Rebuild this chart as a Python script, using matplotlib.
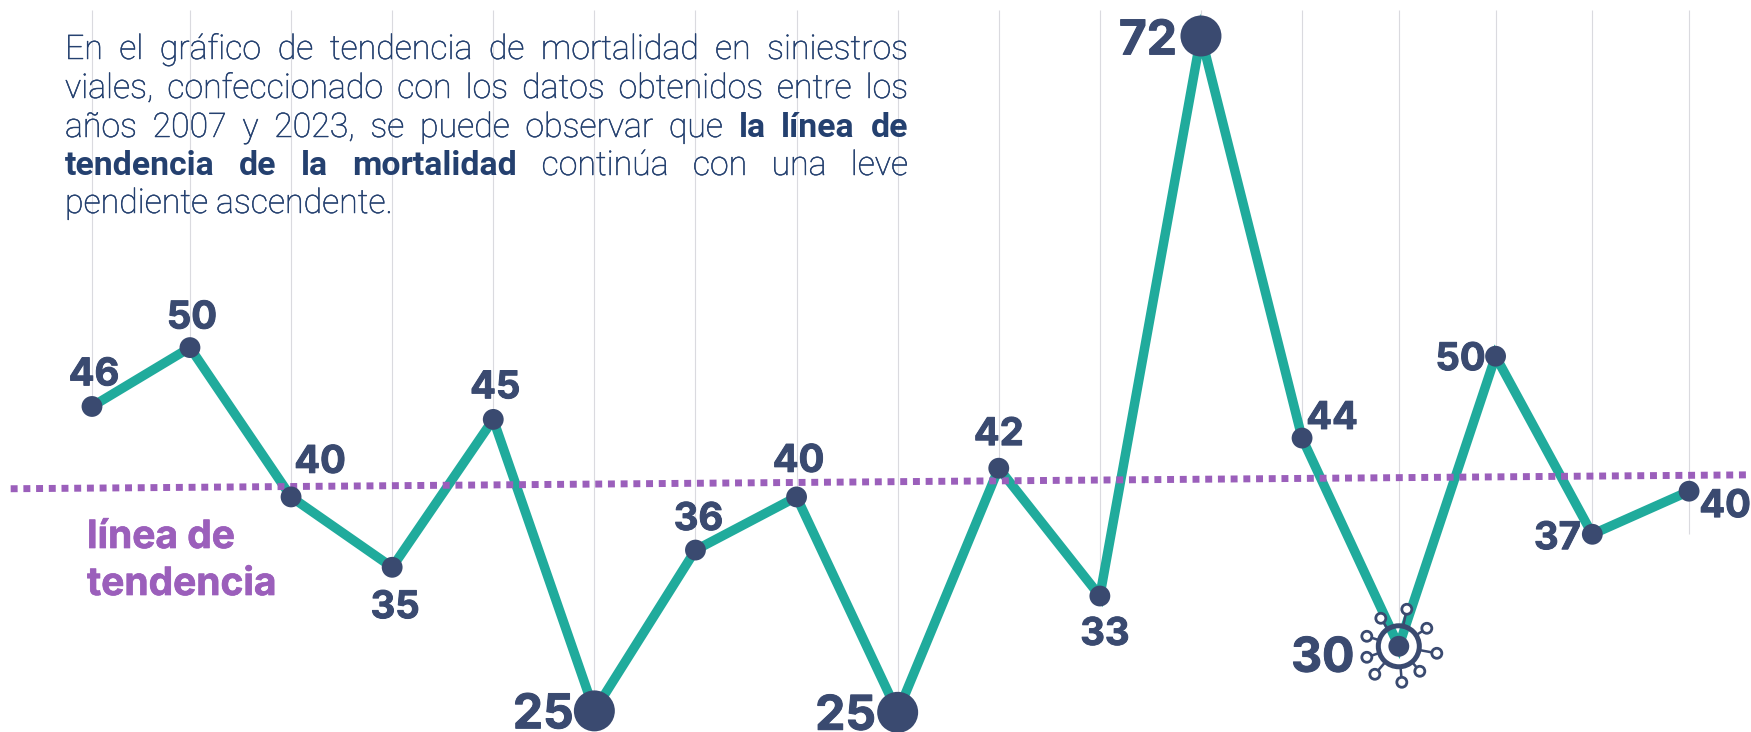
import numpy as np
import matplotlib
matplotlib.use('Agg')
import matplotlib.pyplot as plt
import matplotlib.patheffects as pe
from matplotlib.patches import Circle
from matplotlib.transforms import Affine2D

# Alturas (el original esta dibujado a mano, por eso no caen justo en la etiqueta)
anios = [2007, 2008, 2009, 2010, 2011, 2012, 2013, 2014, 2015, 2016, 2017, 2018, 2019, 2020, 2021, 2022, 2023]
valores = [46.2, 50.3, 39.9, 35.0, 45.3, 25.0, 36.2, 39.9, 24.9, 41.9, 33.0, 72.0, 44.0, 29.5, 49.7, 37.3, 40.3]
etiquetas = ['46', '50', '40', '35', '45', '25', '36', '40', '25', '42', '33', '72', '44', '30', '50', '37', '40']
tendencia_x = [2006.17, 2023.64]
tendencia_y = [40.47, 41.44]
destacados = [2012, 2015, 2018, 2020]

# desplazamiento de cada etiqueta respecto de su punto, en pixeles
offsets = [(2, 35), (2, 33), (29, 38), (3, -37), (2, 35), (-51, 0), (3, 34), (2, 39), (-52, 0),
           (0, 37), (5, -35), (-53, -1), (30, 23), (-76, -8), (-35, 0), (-35, -1), (36, -12)]

parrafo = [
    [('En el gráfico de tendencia de mortalidad en siniestros', False)],
    [('viales, confeccionado con los datos obtenidos entre los', False)],
    [('años 2007 y 2023, se puede observar que', False), ('la línea de', True)],
    [('tendencia de la mortalidad', True), ('continúa con una leve', False)],
    [('pendiente ascendente.', False)],
]

TEAL = '#20AB9C'
NAVY = '#3A4A70'
PURPLE = '#9B5FBB'
TEXTO = '#24406F'
GRID = '#DADADF'
W, H = 1751, 732
FONT = 'Inter'

# las columnas del original no son parejas: 2007 mas angosta y se cierran desde 2019
KNOTS_X = [2000, 2008, 2019, 2030]
KNOTS_U = [2008 - 8 * 0.969, 2008, 2019, 2019 + 11 * 0.957]


def forward(x):
    return np.interp(x, KNOTS_X, KNOTS_U)


def inverse(u):
    return np.interp(u, KNOTS_U, KNOTS_X)


def grueso(color, ancho):
    # ni Inter ni Roboto tienen el peso exacto, se engorda un poco el trazo
    return [pe.withStroke(linewidth=ancho, foreground=color)]


fig = plt.figure(figsize=(W / 100, H / 100), dpi=100, facecolor='white')
ax = fig.add_axes([0, 0, 1, 1])
ax.set_xscale('function', functions=(forward, inverse))
ax.set_xlim(2006.061, 2023.64)
ax.set_ylim(23.53, 74.507)
ax.set_axis_off()

# lineas verticales, desde arriba hasta cada punto
ax.vlines(anios, valores, 73.8, color=GRID, linewidth=0.8, zorder=1)
ax.vlines(anios[-1], 37.3, valores[-1], color=GRID, linewidth=0.8, zorder=1)

ax.plot(anios, valores, color=TEAL, linewidth=6.8, solid_joinstyle='miter', zorder=2)
ax.plot(tendencia_x, tendencia_y, color=PURPLE, linewidth=5, linestyle=(0, (1.0, 0.83)),
        dash_capstyle='butt', zorder=3)

tamanos = [29.5 if a in destacados[:3] else 15 for a in anios]
ax.scatter(anios, valores, s=np.array(tamanos) ** 2, color=NAVY, linewidths=0, zorder=5)

for a, v, txt, (dx, dy) in zip(anios, valores, etiquetas, offsets):
    grande = a in destacados
    size = 34.5 if grande else 27.5
    cap = size * 100 / 72 * 0.727 / 2
    ax.annotate(txt, (a, v), xytext=(dx * 0.72, (dy - cap) * 0.72), textcoords='offset points',
                ha='center', va='baseline', fontsize=size, fontweight='bold', family=FONT,
                color=NAVY, zorder=6, path_effects=grueso(NAVY, 0.7))

# icono del virus sobre 2020, en pixeles alrededor del punto
cx, cy = ax.transData.transform((2020, valores[anios.index(2020)]))
trans = Affine2D().translate(cx, cy)
satelites = [(8, 37), (28, 18), (38, -7), (21, -25), (3, -36), (-24, -28), (-32, -11), (-32, 10), (-18, 28)]
ax.add_patch(Circle((0, 0), 20.5, fill=False, edgecolor=NAVY, linewidth=3.6, transform=trans, zorder=4))
for sx, sy in satelites:
    r = np.hypot(sx, sy)
    ax.plot([sx * 22 / r, sx], [sy * 22 / r, sy], color=NAVY, linewidth=1.8, transform=trans, zorder=4)
    ax.add_patch(Circle((sx, sy), 5, facecolor='white', edgecolor=NAVY, linewidth=2,
                        transform=trans, zorder=4.5))

# parrafo justificado a mano, palabra por palabra
renderer = fig.canvas.get_renderer()
LEFT, RIGHT = 65, 908
baselines = [59, 98, 137, 175, 213]


def palabra(x, y, txt, bold):
    t = fig.text(x / W, 1 - y / H, txt, fontsize=24.4, family='Roboto',
                 fontweight='bold' if bold else 'light', color=TEXTO, ha='left', va='baseline')
    if not bold:
        t.set_path_effects(grueso(TEXTO, 0.35))
    return t


for i, (linea, base) in enumerate(zip(parrafo, baselines)):
    palabras = [(w, b) for chunk, b in linea for w in chunk.split()]
    objs = [palabra(LEFT, base, w, b) for w, b in palabras]
    anchos = [o.get_window_extent(renderer).width for o in objs]
    if i == len(parrafo) - 1:
        gap = 8
    else:
        gap = (RIGHT - LEFT - sum(anchos)) / (len(objs) - 1)
    x = LEFT
    for o, ancho in zip(objs, anchos):
        o.set_x(x / W)
        x += ancho + gap

fig.text(87 / W, 1 - 548 / H, 'línea de', fontsize=28, fontweight='bold', family=FONT, color=PURPLE,
         path_effects=grueso(PURPLE, 0.5))
fig.text(87 / W, 1 - 595 / H, 'tendencia', fontsize=28, fontweight='bold', family=FONT, color=PURPLE,
         path_effects=grueso(PURPLE, 0.5))

fig.savefig('out.png', dpi=100)
